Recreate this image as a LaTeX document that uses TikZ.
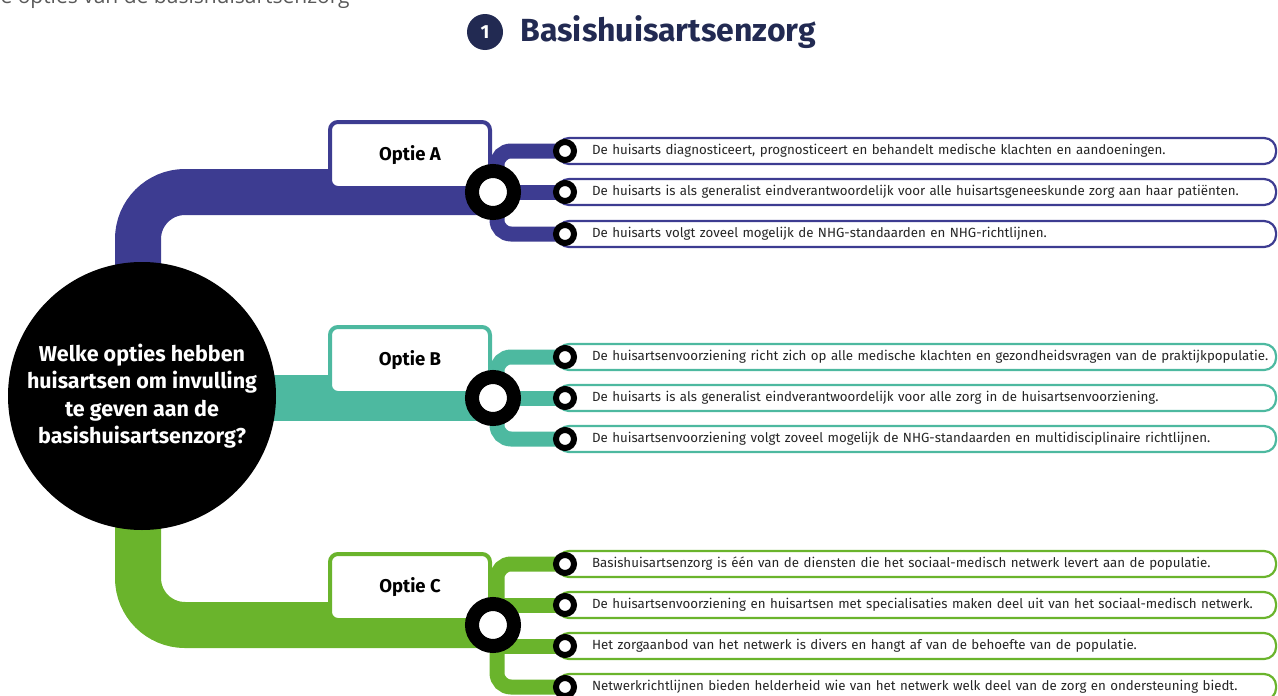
\documentclass[tikz,border=0pt]{standalone}
\usepackage{fontspec}
\setmainfont{Fira Sans}
\newfontfamily\captionfont{Open Sans}
\usetikzlibrary{backgrounds}

\definecolor{optA}{RGB}{61,60,145}
\definecolor{optB}{RGB}{77,185,160}
\definecolor{optC}{RGB}{106,180,44}
\definecolor{navy}{RGB}{34,42,82}

\tikzstyle{question}=[circle, fill=black, text=white, minimum size=268pt, inner sep=0pt, align=center, font=\bfseries\fontsize{21.5}{27.5}\selectfont]
\tikzstyle{band}=[line width=46pt, rounded corners=47pt]
\tikzstyle{twig}=[line width=15pt, rounded corners=14pt]
\tikzstyle{optie}=[rectangle, rounded corners=8pt, fill=white, line width=4pt, minimum width=160pt, minimum height=66pt, font=\bfseries\fontsize{18.5}{20}\selectfont]
\tikzstyle{hub}=[circle, draw=black, fill=white, line width=14pt, minimum size=42pt, inner sep=0pt]
\tikzstyle{stip}=[circle, draw=black, fill=white, line width=6pt, minimum size=18pt, inner sep=0pt]
\tikzstyle{stelling}=[rectangle, rounded corners=12pt, fill=white, line width=2.2pt, minimum height=26pt, inner xsep=0pt, inner ysep=0pt, text width=719pt, align=left, anchor=west, text=black!85, font=\fontsize{13.3}{15}\selectfont]

\begin{document}
\begin{tikzpicture}[x=1pt, y=-1pt]
  \useasboundingbox (0,0) rectangle (1278,696);

  %% Title
  \draw (-3,4) node[anchor=base west, text=black!65, font=\captionfont\fontsize{21}{24}\selectfont] (cap) {e opties van de basishuisartsenzorg};
  \draw (485,32) node[circle, fill=navy, text=white, minimum size=36pt, inner sep=0pt, font=\bfseries\fontsize{19}{20}\selectfont] (num) {1};
  \draw (517,32) node[anchor=west, text=navy, font=\bfseries\fontsize{32}{34}\selectfont] (title) {Basishuisartsenzorg};

  %% Question
  \draw (142,396) node[question] (Q) {Welke opties hebben\\huisartsen om invulling\\te geven aan de\\basishuisartsenzorg?};

  %% Optie A
  \draw (410,155) node[optie, draw=optA] (OA) {Optie A};
  \draw (493,192) node[hub] (RA) {};
  \draw (556,151) node[stelling, draw=optA] (bA1) {\hspace*{35pt}De huisarts diagnosticeert, prognosticeert en behandelt medische klachten en aandoeningen.};
  \draw (556,192) node[stelling, draw=optA] (bA2) {\hspace*{35pt}De huisarts is als generalist eindverantwoordelijk voor alle huisartsgeneeskunde zorg aan haar patiënten.};
  \draw (556,234) node[stelling, draw=optA] (bA3) {\hspace*{35pt}De huisarts volgt zoveel mogelijk de NHG-standaarden en NHG-richtlijnen.};
  \draw (565,151) node[stip] (A1) {};
  \draw (565,192) node[stip] (A2) {};
  \draw (565,234) node[stip] (A3) {};

  %% Optie B
  \draw (410,360) node[optie, draw=optB] (OB) {Optie B};
  \draw (493,398) node[hub] (RB) {};
  \draw (556,357) node[stelling, draw=optB] (bB1) {\hspace*{35pt}De huisartsenvoorziening richt zich op alle medische klachten en gezondheidsvragen van de praktijkpopulatie.};
  \draw (556,398) node[stelling, draw=optB] (bB2) {\hspace*{35pt}De huisarts is als generalist eindverantwoordelijk voor alle zorg in de huisartsenvoorziening.};
  \draw (556,439) node[stelling, draw=optB] (bB3) {\hspace*{35pt}De huisartsenvoorziening volgt zoveel mogelijk de NHG-standaarden en multidisciplinaire richtlijnen.};
  \draw (565,357) node[stip] (B1) {};
  \draw (565,398) node[stip] (B2) {};
  \draw (565,439) node[stip] (B3) {};

  %% Optie C
  \draw (410,587) node[optie, draw=optC] (OC) {Optie C};
  \draw (493,625) node[hub] (RC) {};
  \draw (556,564) node[stelling, draw=optC] (bC1) {\hspace*{35pt}Basishuisartsenzorg is één van de diensten die het sociaal-medisch netwerk levert aan de populatie.};
  \draw (556,605) node[stelling, draw=optC] (bC2) {\hspace*{35pt}De huisartsenvoorziening en huisartsen met specialisaties maken deel uit van het sociaal-medisch netwerk.};
  \draw (556,646) node[stelling, draw=optC] (bC3) {\hspace*{35pt}Het zorgaanbod van het netwerk is divers en hangt af van de behoefte van de populatie.};
  \draw (556,687) node[stelling, draw=optC] (bC4) {\hspace*{35pt}Netwerkrichtlijnen bieden helderheid wie van het netwerk welk deel van de zorg en ondersteuning biedt.};
  \draw (565,564) node[stip] (C1) {};
  \draw (565,605) node[stip] (C2) {};
  \draw (565,646) node[stip] (C3) {};
  \draw (565,687) node[stip] (C4) {};

  %% Branches
  \begin{scope}[on background layer]
    \draw[band, optA] ([xshift=-4pt]Q.center) |- (RA.center);
    \draw[band, optB] (Q.center |- RB.center) -- (RB.center);
    \draw[band, optC] ([xshift=-4pt]Q.center) |- (RC.center);

    \draw[twig, optA] ([xshift=4pt]RA.center) |- (A1.center);
    \draw[twig, optA] (RA.center) -- (A2.center);
    \draw[twig, optA] ([xshift=4pt]RA.center) |- (A3.center);

    \draw[twig, optB] ([xshift=4pt]RB.center) |- (B1.center);
    \draw[twig, optB] (RB.center) -- (B2.center);
    \draw[twig, optB] ([xshift=4pt]RB.center) |- (B3.center);

    \draw[twig, optC] ([xshift=4pt]RC.center) |- (C1.center);
    \draw[twig, optC] (RC.center |- C2.center) -- (C2.center);
    \draw[twig, optC] (RC.center |- C3.center) -- (C3.center);
    \draw[twig, optC] ([xshift=4pt]RC.center) |- (C4.center);
  \end{scope}
\end{tikzpicture}
\end{document}
